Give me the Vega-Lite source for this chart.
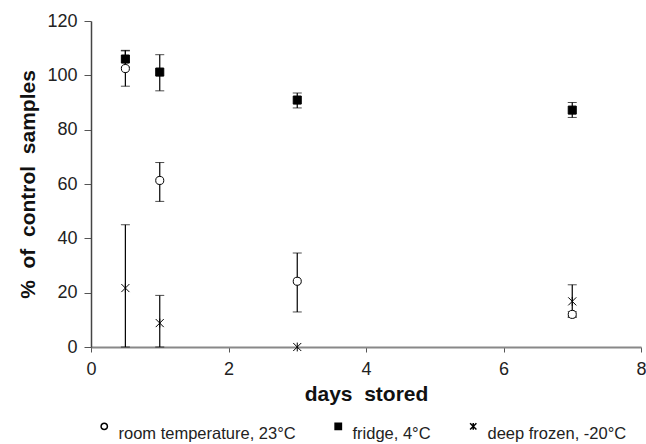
{
  "$schema": "https://vega.github.io/schema/vega-lite/v6.json",
  "width": 550,
  "height": 326,
  "autosize": {"type": "none"},
  "padding": {"left": 91, "top": 21, "right": 5, "bottom": 97},
  "config": {
    "view": {"stroke": null},
    "font": "Liberation Sans",
    "axis": {"grid": false, "labelColor": "#222", "titleColor": "#111", "tickColor": "#555"},
    "legend": {
      "orient": "none",
      "legendX": 5,
      "legendY": 397,
      "direction": "horizontal",
      "padding": 0,
      "labelFontSize": 16.5,
      "labelColor": "#222",
      "labelOffset": 6,
      "labelLimit": 300,
      "columnPadding": 34,
      "symbolSize": 40,
      "labelBaseline": "top"
    }
  },
  "data": {
    "values": [
      {"day": 0.5, "series": "room temperature, 23°C", "value": 102.5, "lo": 96, "hi": 109},
      {"day": 1, "series": "room temperature, 23°C", "value": 61.3, "lo": 53.6, "hi": 67.9},
      {"day": 3, "series": "room temperature, 23°C", "value": 24.2, "lo": 12.9, "hi": 34.6},
      {"day": 7, "series": "room temperature, 23°C", "value": 12, "lo": 11, "hi": 13},
      {"day": 0.5, "series": "fridge, 4°C", "value": 106, "lo": 103, "hi": 109.2},
      {"day": 1, "series": "fridge, 4°C", "value": 101.2, "lo": 94.3, "hi": 107.6},
      {"day": 3, "series": "fridge, 4°C", "value": 90.9, "lo": 88, "hi": 93.5},
      {"day": 7, "series": "fridge, 4°C", "value": 87.2, "lo": 84.5, "hi": 90},
      {"day": 0.5, "series": "deep frozen, -20°C", "value": 21.7, "lo": 0, "hi": 45},
      {"day": 1, "series": "deep frozen, -20°C", "value": 8.8, "lo": 0, "hi": 19},
      {"day": 3, "series": "deep frozen, -20°C", "value": 0, "lo": 0, "hi": 0},
      {"day": 7, "series": "deep frozen, -20°C", "value": 16.8, "lo": 11, "hi": 22.9}
    ]
  },
  "encoding": {
    "x": {
      "field": "day",
      "type": "quantitative",
      "scale": {"domain": [0, 8], "nice": false},
      "axis": {
        "values": [0, 2, 4, 6, 8],
        "tickSize": 5,
        "labelFontSize": 18,
        "labelPadding": 8,
        "labelFlush": false,
        "title": "days\u00a0 stored",
        "titleFontSize": 21,
        "titleFontWeight": "bold",
        "titlePadding": 5,
        "domainColor": "#888",
        "domainWidth": 2
      }
    }
  },
  "layer": [
    {
      "transform": [{"filter": "datum.hi > datum.lo"}],
      "mark": {
        "type": "errorbar",
        "color": "black",
        "ticks": {"size": 9, "color": "black"},
        "rule": {"color": "black", "strokeWidth": 1.2}
      },
      "encoding": {
        "y": {
          "field": "lo",
          "type": "quantitative",
          "scale": {"domain": [0, 120], "nice": false},
          "axis": {
            "values": [0, 20, 40, 60, 80, 100, 120],
            "tickSize": 7,
            "labelFontSize": 18,
            "labelPadding": 7,
            "title": "%\u00a0 of\u00a0 control\u00a0 samples",
            "titleFontSize": 21,
            "titleFontWeight": "bold",
            "titlePadding": 8,
            "domainColor": "#444",
            "domainWidth": 1.5
          }
        },
        "y2": {"field": "hi"}
      }
    },
    {
      "mark": {"type": "point", "filled": true, "stroke": "black", "strokeWidth": 1, "opacity": 1, "size": 65},
      "encoding": {
        "y": {"field": "value", "type": "quantitative"},
        "shape": {
          "field": "series",
          "type": "nominal",
          "scale": {
            "domain": ["room temperature, 23°C", "fridge, 4°C", "deep frozen, -20°C"],
            "range": ["circle", "square", "M-1,-1L1,1M-1,1L1,-1M0,-1.1L0,1.1"]
          },
          "legend": {
            "title": null,
            "encode": {
              "symbols": {"update": {"stroke": {"value": "black"}, "strokeWidth": {"value": 1}}}
            }
          }
        },
        "fill": {
          "field": "series",
          "type": "nominal",
          "scale": {
            "domain": ["room temperature, 23°C", "fridge, 4°C", "deep frozen, -20°C"],
            "range": ["white", "black", "white"]
          },
          "legend": {
            "title": null,
            "encode": {
              "symbols": {"update": {"stroke": {"value": "black"}, "strokeWidth": {"value": 1}}}
            }
          }
        }
      }
    }
  ]
}
